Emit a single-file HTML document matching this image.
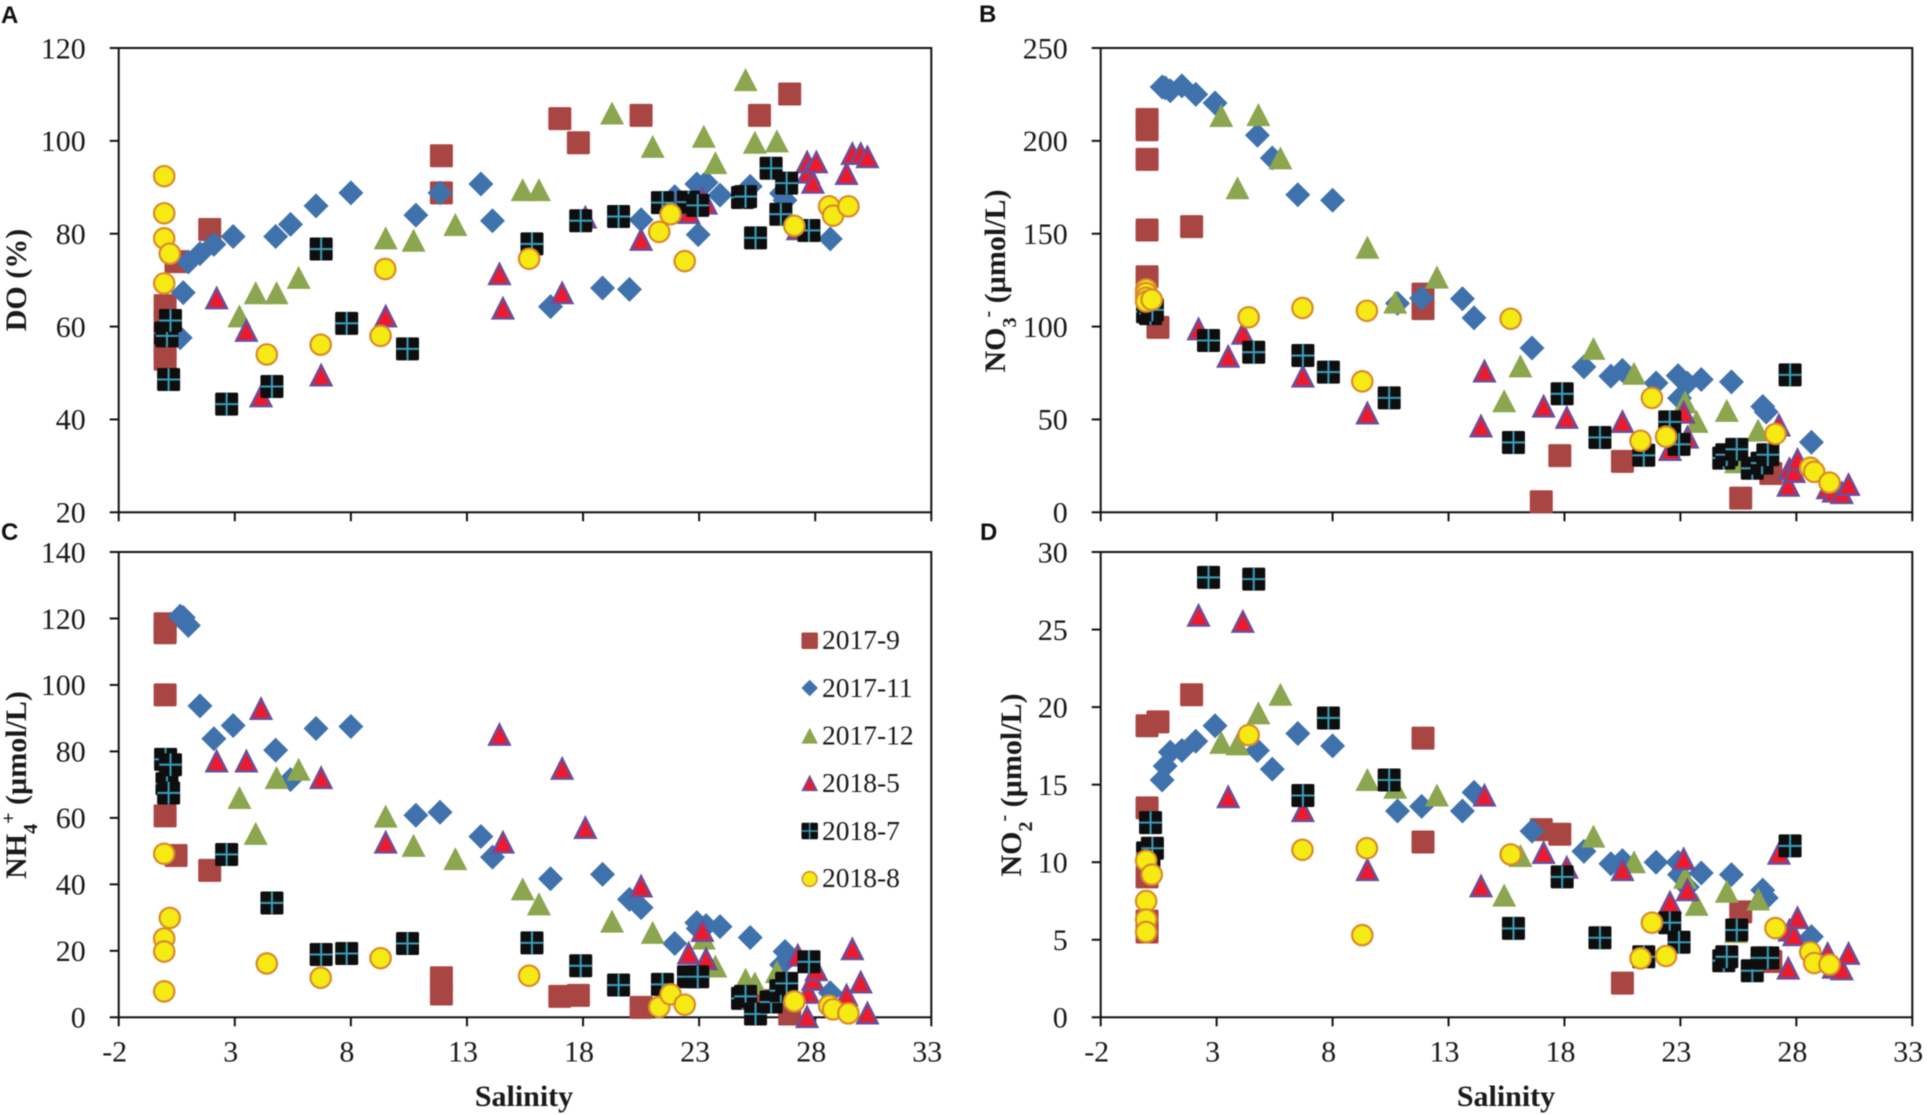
<!DOCTYPE html>
<html lang="en">
<head>
<meta charset="utf-8">
<title>Salinity scatter plots</title>
<style>
html,body{margin:0;padding:0;background:#fff;width:1930px;height:1115px;overflow:hidden}
svg{display:block;font-family:"Liberation Serif",serif;filter:blur(0.4px)}
.tick{font-size:30px;fill:#1a1a1a}
.title{font-size:30px;font-weight:bold;fill:#1a1a1a}
.letter{font-family:"Liberation Sans",sans-serif;font-size:24px;font-weight:bold;fill:#111}
.legend-text{font-size:27.5px;fill:#1a1a1a}
</style>
</head>
<body>
<svg id="figure" width="1930" height="1115" viewBox="0 0 1930 1115" xmlns="http://www.w3.org/2000/svg">
  <text class="letter" x="1" y="23">A</text>
  <text class="letter" x="979" y="22">B</text>
  <text class="letter" x="1" y="540">C</text>
  <text class="letter" x="980" y="540">D</text>

  <text class="title" text-anchor="middle" transform="translate(26,280) rotate(-90)">DO (%)</text>
  <text class="title" text-anchor="middle" transform="translate(1005,281) rotate(-90)">NO<tspan font-size="20" baseline-shift="sub">3</tspan><tspan font-size="20" baseline-shift="super">-</tspan> (µmol/L)</text>
  <text class="title" text-anchor="middle" transform="translate(26,785) rotate(-90)">NH<tspan font-size="20" baseline-shift="sub">4</tspan><tspan font-size="20" baseline-shift="super">+</tspan> (µmol/L)</text>
  <text class="title" text-anchor="middle" transform="translate(1021,785) rotate(-90)">NO<tspan font-size="20" baseline-shift="sub">2</tspan><tspan font-size="20" baseline-shift="super">-</tspan> (µmol/L)</text>

  <text class="title" text-anchor="middle" x="524" y="1106">Salinity</text>
  <text class="title" text-anchor="middle" x="1506" y="1106">Salinity</text>

  <g id="panels"></g>

  <g id="legend">
    <text class="legend-text" x="822" y="649">2017-9</text>
    <text class="legend-text" x="822" y="697">2017-11</text>
    <text class="legend-text" x="822" y="744.5">2017-12</text>
    <text class="legend-text" x="822" y="792">2018-5</text>
    <text class="legend-text" x="822" y="840">2018-7</text>
    <text class="legend-text" x="822" y="887">2018-8</text>
  </g>
</svg>

<script>
// X axis ticks (shared)
const xTicks = [-2, 3, 8, 13, 18, 23, 28, 33];

// Y axis ticks
const yTicksDO = [20, 40, 60, 80, 100, 120];
const yTicksNO3 = [0, 50, 100, 150, 200, 250];
const yTicksNH4 = [0, 20, 40, 60, 80, 100, 120, 140];
const yTicksNO2 = [0, 5, 10, 15, 20, 25, 30];

// Salinity for every cruise
const salinitySep2017 = [0,0,0,0,0,0.47,1.92,11.9,11.9,17,17.8,20.5,25.6,26.9];
const salinityNov2017 = [0.65,0.78,1.0,1.5,2.1,2.93,4.76,5.4,6.5,8.0,10.8,11.84,13.6,14.1,16.6,18.84,20,20.5,21.95,22.9,22.96,23.3,23.9,25.2,26.55,26.7,28.65];
const salinityDec2017 = [3.2,3.9,4.8,5.75,9.5,10.7,12.5,15.4,16.1,19.25,21,23.2,23.7,25,25.4,26.35];
const salinityMay2018 = [2.22,3.5,4.13,6.72,9.5,14.4,14.55,17.1,18.1,20.5,22.55,23.14,23.3,27.25,27.65,27.7,27.9,28.05,29.35,29.6,29.96,30.25];
const salinityJul2018 = [0.02,0.08,0.15,0.23,2.65,4.6,6.72,7.82,10.44,15.8,17.9,19.53,21.42,22.54,22.94,24.87,25,25.43,26.1,26.52,26.77,27.73];
const salinityAug2018 = [-0.04,-0.04,-0.04,-0.04,0.2,4.38,6.7,9.28,9.48,15.68,21.28,21.77,22.38,27.1,28.6,28.77,29.43];

// Panel A: DO (%)
const doSep2017 = [64.5,61,58,55,53,74,80.9,96.8,88.8,104.8,99.6,105.5,105.5,110.1];
const doNov2017 = [57.6,67.3,73.9,75.7,77.7,79.4,79.4,82,86,88.8,84,88.8,90.7,82.8,64.3,68.3,68,83,88,90.7,79.8,91,88.3,90.2,88.7,87.2,78.9];
const doDec2017 = [62.2,67.2,67.2,70.5,79,78.5,81.9,89.4,89.4,105.9,98.7,100.9,95.2,113.1,99.6,99.9];
const doMay2018 = [66.1,59.1,45,49.5,62.2,71.3,63.9,67.2,83.5,78.7,84.5,87.5,86.5,81,95.4,93.2,91,95.4,92.9,97.2,97.2,96.5];
const doJul2018 = [58.6,58,48.6,61.3,43.3,47.1,76.7,60.7,55.2,77.8,82.8,83.7,86.7,86.8,86.1,87.8,88,79.1,94.1,84.2,90.9,80.7];
const doAug2018 = [92.4,84.4,79,69.3,75.7,54,56.1,58,72.4,74.6,80.4,84.2,74.1,81.7,85.9,83.9,85.9];

// Panel B: NO3-
const no3Sep2017 = [211.5,206,190,152,126.8,99.6,153.8,117.5,109.7,5.7,30.5,27.4,7.6,20.9];
const no3Nov2017 = [229,228.5,227,229.6,225,220.4,203,190.8,171,168,112.5,115.3,115,104.7,88.5,78.3,73.3,76.4,69.6,73.6,61.5,69.5,71.5,70.2,57,54,37.7];
const no3Dec2017 = [213.4,174.5,213.9,190.6,142.5,112.9,126.4,59.8,78.6,88,74.6,59.2,48.7,54.6,27,44];
const no3May2018 = [98.6,83.8,96.2,73.1,53.3,46.3,75.9,57,50.9,48.7,33.6,53.7,40.3,46.8,14.4,23.3,21.8,28.3,13,11.2,10.4,14.8];
const no3Jul2018 = [108,110,107,109,92.5,86.2,84.4,75.5,61.6,37.6,63.8,40.3,30.7,48.7,36.6,29.2,31,33.9,23.7,26.5,31,74];
const no3Aug2018 = [120,118,115.5,113.5,114.5,105,110,70.5,108.5,104.2,38.5,61.6,40.7,42.2,24,21.8,16];

// Panel C: NH4+
const nh4Sep2017 = [118.4,115.7,97,60.6,116,48.7,44.2,11.9,7,6.3,6.6,3,5,1];
const nh4Nov2017 = [120.7,120.3,117.9,93.7,83.8,87.8,80.4,71.5,86.9,87.5,60.8,61.7,54.4,48.2,41.7,43,35.5,33,22.2,28.5,26.7,27.6,27.3,24,15.8,19.8,7.4];
const nh4Dec2017 = [66,55.2,72,74.5,60.4,51.6,47.6,38.5,34,28.8,25.4,23.7,15.3,11.3,10.2,13.6];
const nh4May2018 = [77,77,92.8,72,52.6,85,52.6,74.8,57,39.4,19.2,26,17.5,18.6,0.1,7.4,11.3,14.2,6.6,20.5,10.5,1.2];
const nh4Jul2018 = [77.6,70.3,67.5,76,49,34.4,18.9,19.2,22.2,22.4,15.5,9.7,9.9,12.2,12.2,5.7,6.3,1,4.6,8,10.2,16.7];
const nh4Aug2018 = [49.2,23.7,19.8,7.8,29.9,16.2,11.9,17.8,null,12.5,3.1,6.9,3.8,4.8,3.5,2.4,1.2];

// Panel D: NO2-
const no2Sep2017 = [18.8,13.5,9.05,6.2,5.5,19.05,20.8,18,11.3,12.1,11.8,2.2,6.8,3.6];
const no2Nov2017 = [15.3,16.2,17.1,17.2,17.8,18.8,17.2,16,18.3,17.5,13.3,13.6,13.3,14.5,12,10.7,9.9,10.1,10,10,9.2,8.4,9.3,9.2,8.2,7.7,5.2];
const no2Dec2017 = [17.7,17.6,19.6,20.8,15.3,14.8,14.3,7.85,10.4,11.65,10,9,7.25,8.1,5.5,7.6];
const no2May2018 = [25.9,14.2,25.5,13.3,9.5,8.45,14.3,10.6,9.65,9.5,7.4,10.2,8.2,10.55,3.15,5.6,5.3,6.4,4.1,3.2,3.1,4.1];
const no2Jul2018 = [10.6,10.3,12.55,10.9,28.36,28.25,14.3,19.3,15.3,5.73,9.05,5.13,3.9,6.1,4.84,3.65,3.9,5.63,3,3.83,3.83,11.05];
const no2Aug2018 = [10.1,7.5,6.3,5.5,9.2,18.2,10.8,5.3,10.9,10.5,3.8,6.1,3.95,5.75,4.2,3.5,3.4];

const NS = 'http://www.w3.org/2000/svg';

function make(tag, attrs, parent) {
  const el = document.createElementNS(NS, tag);
  for (const k in attrs) el.setAttribute(k, attrs[k]);
  parent.appendChild(el);
  return el;
}

const seriesInfo = [
  { key: '2017-9', shape: 'square', size: 23, salinity: salinitySep2017 },
  { key: '2017-11', shape: 'diamond', size: 25, salinity: salinityNov2017 },
  { key: '2017-12', shape: 'triangle', size: 24, salinity: salinityDec2017 },
  { key: '2018-5', shape: 'redTriangle', size: 24, salinity: salinityMay2018 },
  { key: '2018-7', shape: 'blackSquare', size: 23, salinity: salinityJul2018 },
  { key: '2018-8', shape: 'circle', size: 23, salinity: salinityAug2018 }
];

const panelInfo = [
  { id: 'a', left: 118.7, right: 931.3, top: 48, bottom: 512.3, xLabels: false, yTicks: yTicksDO, values: [doSep2017, doNov2017, doDec2017, doMay2018, doJul2018, doAug2018] },
  { id: 'b', left: 1100.7, right: 1912.3, top: 48, bottom: 512.3, xLabels: false, yTicks: yTicksNO3, values: [no3Sep2017, no3Nov2017, no3Dec2017, no3May2018, no3Jul2018, no3Aug2018] },
  { id: 'c', left: 118.7, right: 931.3, top: 552, bottom: 1017.3, xLabels: true, yTicks: yTicksNH4, values: [nh4Sep2017, nh4Nov2017, nh4Dec2017, nh4May2018, nh4Jul2018, nh4Aug2018] },
  { id: 'd', left: 1100.7, right: 1912.3, top: 552, bottom: 1017.3, xLabels: true, yTicks: yTicksNO2, values: [no2Sep2017, no2Nov2017, no2Dec2017, no2May2018, no2Jul2018, no2Aug2018] }
];

function drawMarker(parent, shape, cx, cy, s) {
  // s = overall marker size in pixels
  const h = s / 2;
  const g = make('g', {}, parent);
  if (shape === 'square') {
    make('rect', { x: cx - h, y: cy - h, width: s, height: s, rx: 1.5, fill: '#A94543' }, g);
  } else if (shape === 'diamond') {
    make('polygon', { points: [cx, cy - h, cx + h, cy, cx, cy + h, cx - h, cy].join(' '), fill: '#3F72AC' }, g);
  } else if (shape === 'triangle') {
    make('polygon', { points: [cx, cy - h, cx + h, cy + h * 0.92, cx - h, cy + h * 0.92].join(' '), fill: '#8BA64E' }, g);
  } else if (shape === 'redTriangle') {
    const i = h * 0.84;
    make('polygon', { points: [cx, cy - i, cx + i, cy + i * 0.98, cx - i, cy + i * 0.98].join(' '), fill: '#EE1A2C', stroke: '#6E4D99', 'stroke-width': s * 0.105, 'stroke-linejoin': 'miter' }, g);
  } else if (shape === 'blackSquare') {
    make('rect', { x: cx - h, y: cy - h, width: s, height: s, rx: 1.5, fill: '#0E0E0E' }, g);
    make('path', { d: 'M' + (cx - h * 0.98) + ' ' + cy + 'H' + (cx + h * 0.98) + 'M' + cx + ' ' + (cy - h * 0.98) + 'V' + (cy + h * 0.98), stroke: '#3A9CB8', 'stroke-width': s * 0.09, fill: 'none' }, g);
  } else {
    make('circle', { cx: cx, cy: cy, r: h * 0.89, fill: '#F5EA14', stroke: '#D98A2C', 'stroke-width': s * 0.095 }, g);
  }
  return g;
}

const panelsRoot = document.getElementById('panels');

panelInfo.forEach(function (p) {
  const yMin = p.yTicks[0];
  const yMax = p.yTicks[p.yTicks.length - 1];
  const xMin = xTicks[0];
  const xMax = xTicks[xTicks.length - 1];
  const xScale = function (v) { return p.left + (v - xMin) / (xMax - xMin) * (p.right - p.left); };
  const yScale = function (v) { return p.bottom - (v - yMin) / (yMax - yMin) * (p.bottom - p.top); };

  const panel = make('g', {}, panelsRoot);
  
  

  const frame = make('rect', { x: p.left, y: p.top, width: p.right - p.left, height: p.bottom - p.top, fill: 'none', stroke: '#111', 'stroke-width': 2 }, panel);
  
  

  p.yTicks.forEach(function (t) {
    const y = yScale(t);
    const tick = make('line', { x1: p.left - 9, x2: p.left, y1: y, y2: y, stroke: '#111', 'stroke-width': 2 }, panel);
    
    
    const label = make('text', { x: p.left - 33, y: y + 10.3, 'text-anchor': 'end', class: 'tick' }, panel);
    
    
    label.textContent = t;
  });

  xTicks.forEach(function (t) {
    const x = xScale(t);
    const tick = make('line', { x1: x, x2: x, y1: p.bottom, y2: p.bottom + 9, stroke: '#111', 'stroke-width': 2 }, panel);
    
    
    if (p.xLabels) {
      const label = make('text', { x: x - 4, y: p.bottom + 44.4, 'text-anchor': 'middle', class: 'tick' }, panel);
      
      
      label.textContent = t;
    }
  });

  seriesInfo.forEach(function (s, si) {
    const group = make('g', {}, panel);
    
    
    const vals = p.values[si];
    s.salinity.forEach(function (sal, i) {
      const v = vals[i];
      if (v === null || v === undefined) return;
      const m = drawMarker(group, s.shape, xScale(sal), yScale(v), s.size);
      
      
    });
  });
});

const legendRoot = document.getElementById('legend');
const legendY = [640.7, 688, 736, 783.5, 831, 879];
seriesInfo.forEach(function (s, i) {
  const m = drawMarker(legendRoot, s.shape, 809.7, legendY[i], 16.5);
  
  
});
</script>
</body>
</html>
